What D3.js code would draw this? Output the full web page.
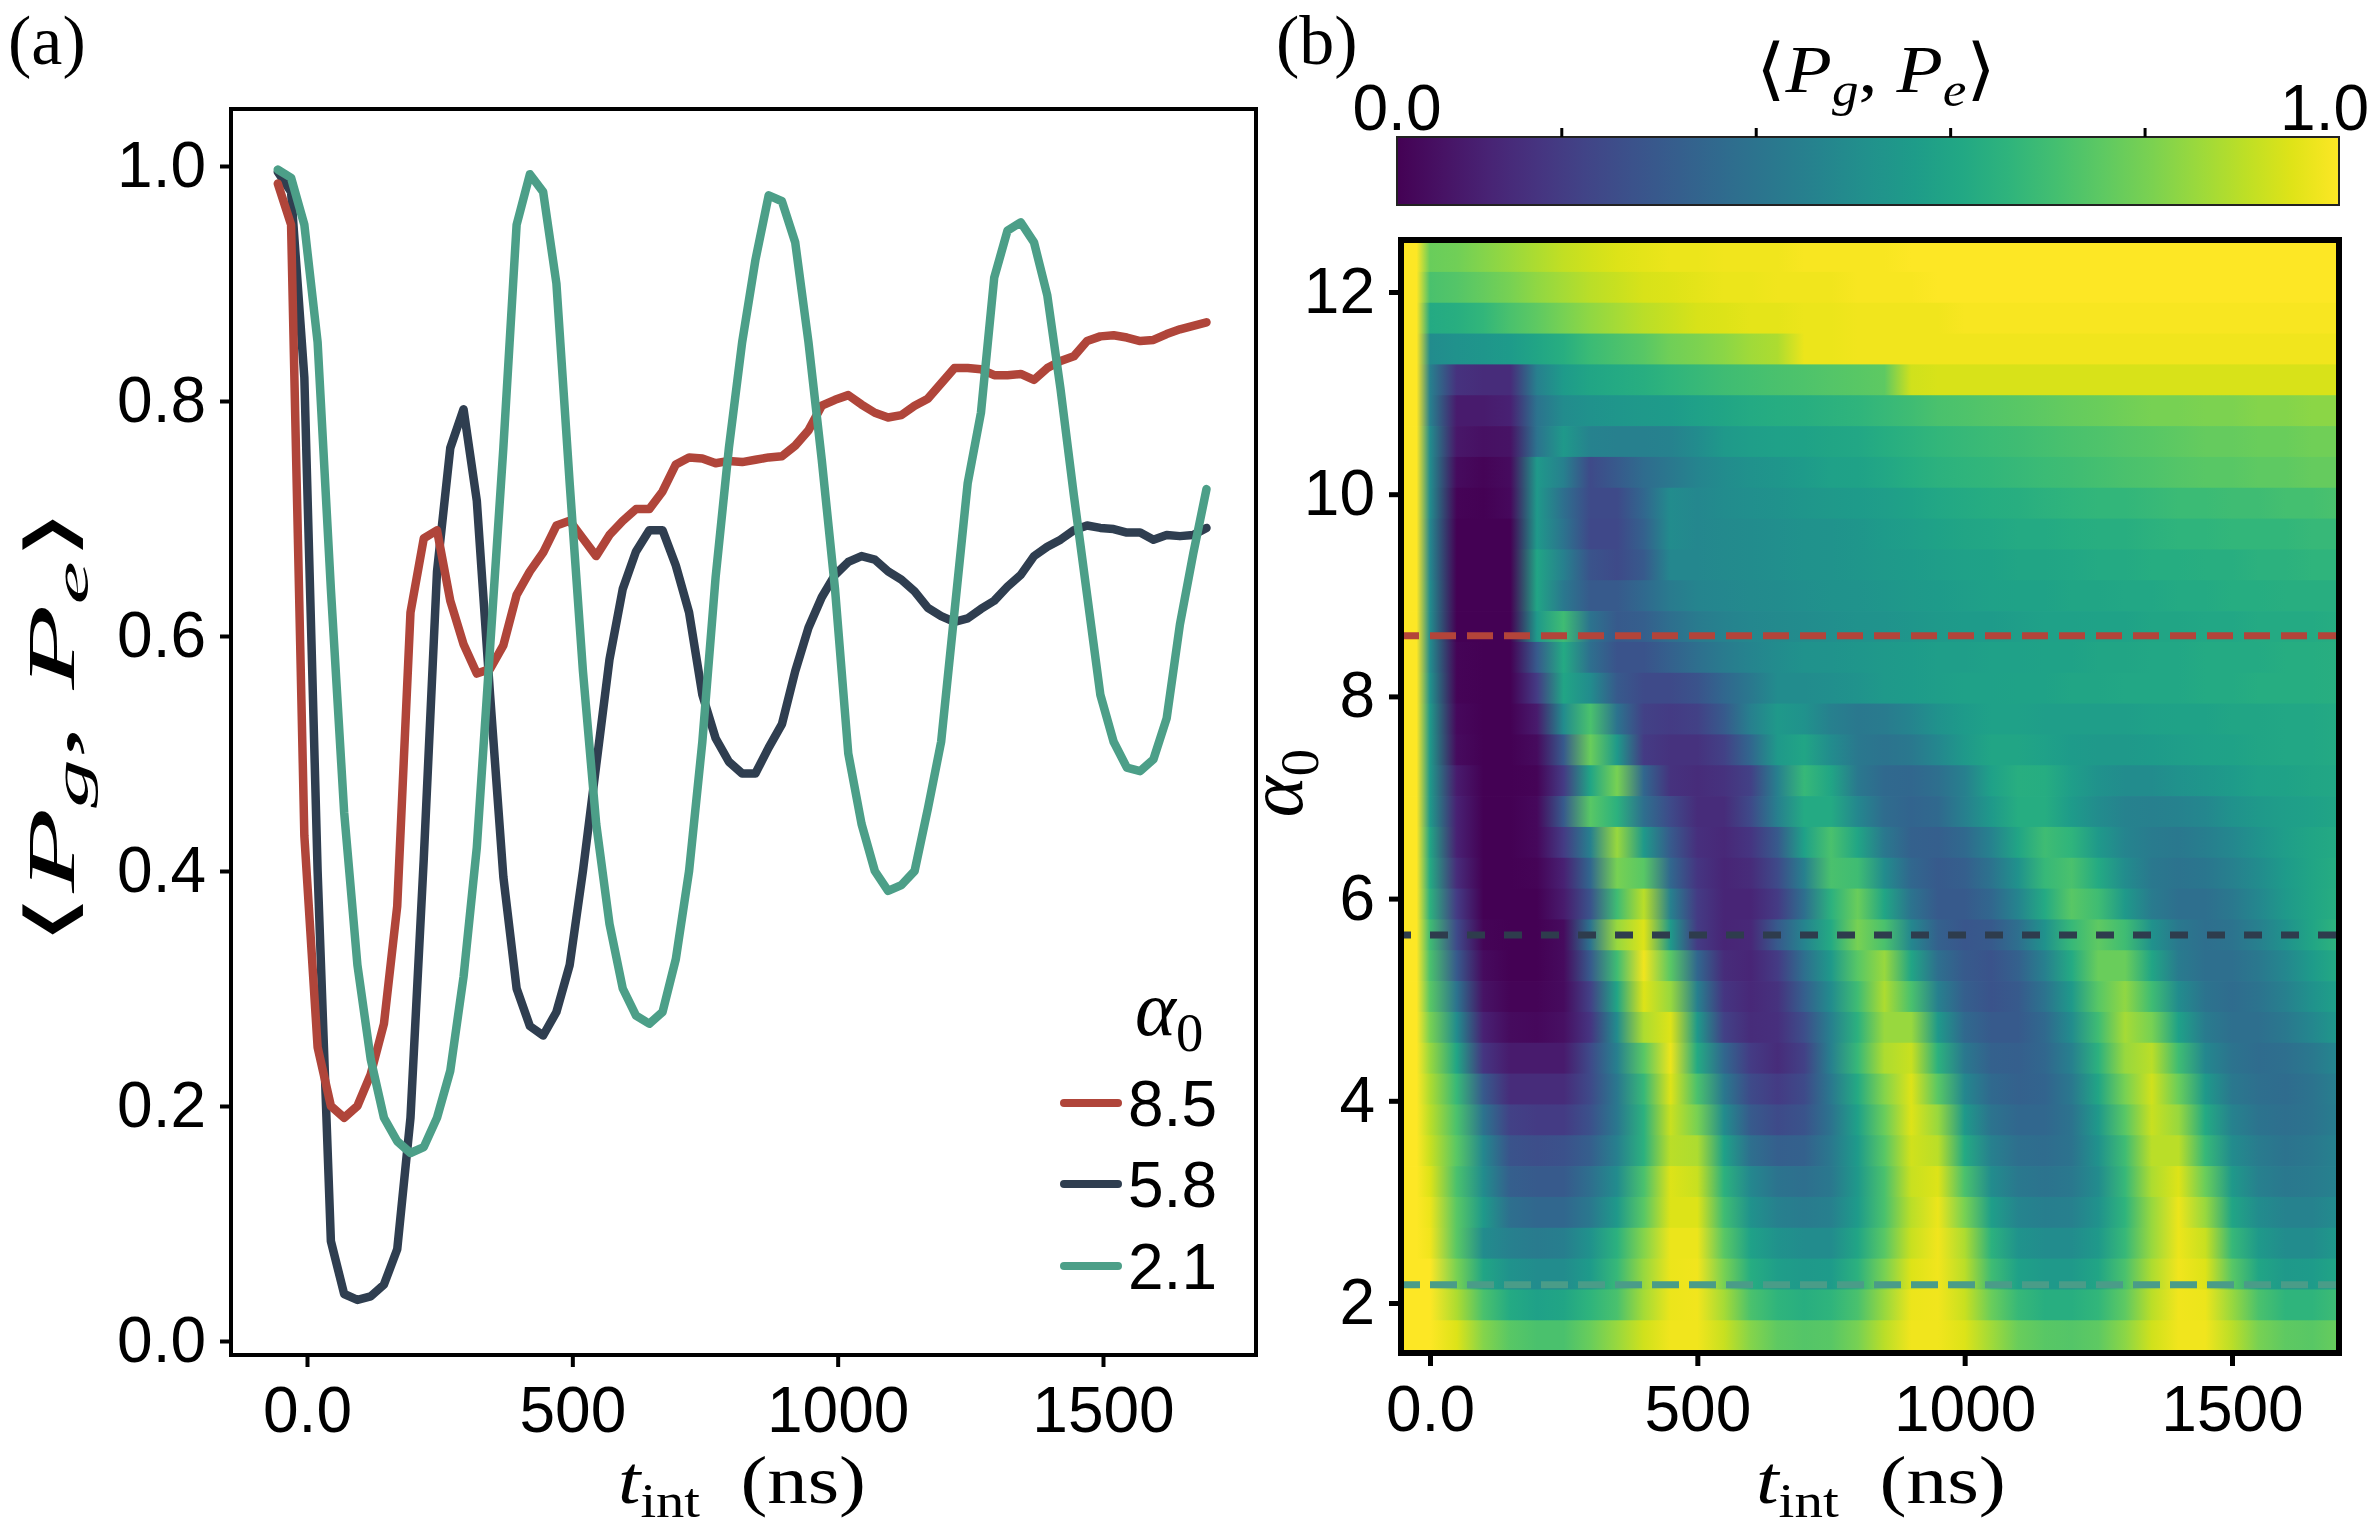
<!DOCTYPE html>
<html><head><meta charset="utf-8">
<script src="https://cdn.jsdelivr.net/npm/d3@7"></script>
<style>body{margin:0;background:#fff}</style>
</head><body>
<svg id="c" width="2374" height="1530" xmlns="http://www.w3.org/2000/svg"></svg>
<script>
// ---------------- DATA ----------------
// panel (a): interaction time grid (ns) and <Pg,Pe> for three alpha0 values
const times = [-55,-30,-5,20,45,70,95,120,145,170,195,220,245,270,295,320,345,370,395,420,445,470,495,520,545,570,595,620,645,670,695,720,745,770,795,820,845,870,895,920,945,970,995,1020,1045,1070,1095,1120,1145,1170,1195,1220,1245,1270,1295,1320,1345,1370,1395,1420,1445,1470,1495,1520,1545,1570,1595,1620,1645,1670,1695];
const seriesNames = ["8.5","5.8","2.1"];
const seriesColors = ["#b0453a","#2f3e50","#4c9f88"];
const val85 = [0.985,0.95,0.43,0.25,0.20,0.19,0.20,0.227,0.27,0.37,0.62,0.683,0.69,0.63,0.593,0.568,0.572,0.592,0.635,0.655,0.671,0.694,0.698,0.683,0.668,0.686,0.698,0.708,0.708,0.723,0.746,0.752,0.751,0.747,0.749,0.748,0.75,0.752,0.753,0.762,0.775,0.796,0.801,0.805,0.797,0.79,0.786,0.788,0.796,0.802,0.815,0.828,0.828,0.827,0.822,0.822,0.823,0.818,0.828,0.834,0.838,0.851,0.855,0.856,0.854,0.851,0.852,0.857,0.861,0.864,0.867];
const val58 = [0.995,0.978,0.82,0.40,0.085,0.04,0.035,0.038,0.048,0.078,0.19,0.41,0.655,0.76,0.793,0.715,0.55,0.395,0.30,0.268,0.26,0.28,0.32,0.40,0.49,0.58,0.64,0.672,0.69,0.69,0.66,0.62,0.55,0.513,0.493,0.483,0.483,0.505,0.525,0.57,0.607,0.633,0.652,0.663,0.668,0.665,0.655,0.648,0.638,0.624,0.617,0.612,0.615,0.623,0.63,0.642,0.652,0.668,0.676,0.682,0.69,0.694,0.692,0.691,0.688,0.688,0.682,0.686,0.685,0.686,0.692];
const val21 = [0.997,0.99,0.95,0.85,0.64,0.45,0.32,0.24,0.19,0.17,0.16,0.165,0.19,0.23,0.31,0.42,0.59,0.76,0.95,0.993,0.978,0.90,0.73,0.57,0.44,0.355,0.30,0.277,0.27,0.28,0.325,0.40,0.51,0.65,0.76,0.85,0.92,0.975,0.97,0.935,0.85,0.75,0.64,0.50,0.44,0.40,0.383,0.388,0.40,0.453,0.51,0.62,0.73,0.79,0.905,0.945,0.952,0.935,0.89,0.81,0.72,0.635,0.55,0.51,0.488,0.485,0.495,0.53,0.61,0.67,0.725];

const tickA_y = [0,0.2,0.4,0.6,0.8,1.0];
const tickA_x = [0,500,1000,1500];
const tickB_y = [2,4,6,8,10,12];
const tickB_x = [0,500,1000,1500];
const cbTicks = [0.2,0.4,0.6,0.8];
const cbEndLabels = ["0.0","1.0"];
const cbDomain = [0.031,1.0];

// panel (b): heat-map columns (ns), row alpha0 values and cell values
const heatCols = [-25,0,50,100,150,200,250,300,350,400,450,500,550,600,650,700,750,800,850,900,950,1000,1050,1100,1150,1200,1250,1300,1350,1400,1450,1500,1550,1600,1650,1700];
const heatAlphas = [12.35,12.04,11.74,11.43,11.13,10.82,10.52,10.21,9.91,9.60,9.30,8.99,8.69,8.38,8.08,7.77,7.47,7.16,6.86,6.55,6.25,5.94,5.64,5.33,5.03,4.72,4.42,4.11,3.81,3.50,3.20,2.89,2.59,2.28,1.98,1.67];
const heatRows = [
[1,.78,.79,.82,.85,.88,.91,.93,.95,.96,.97,.97,.98,.98,.98,.99,.99,.99,.99,1,1,1,1,1,1,1,1,1,1,1,1,1,1,1,1,1],
[1,.72,.74,.77,.8,.84,.87,.9,.92,.94,.95,.96,.97,.97,.98,.98,.98,.99,.99,.99,1,1,1,1,1,1,1,1,1,1,1,1,1,1,1,1],
[1,.62,.64,.67,.72,.76,.8,.84,.87,.9,.92,.94,.95,.96,.96,.97,.97,.98,.98,.98,.98,.99,.99,.99,.99,.99,.99,.99,.99,.99,.99,.99,.99,.99,.99,.99],
[1,.5,.52,.54,.56,.6,.64,.69,.72,.75,.79,.81,.83,.86,.88,.97,.97,.98,.98,.98,.98,.98,.98,.98,.98,.98,.98,.98,.98,.98,.98,.98,.98,.98,.98,.98],
[1,.45,.17,.15,.15,.45,.56,.6,.62,.64,.66,.68,.7,.71,.72,.73,.74,.75,.76,.93,.94,.94,.94,.94,.94,.94,.94,.94,.94,.94,.94,.94,.94,.94,.94,.94],
[1,.45,.1,.1,.12,.4,.5,.52,.54,.55,.56,.58,.6,.62,.63,.64,.65,.66,.68,.7,.72,.73,.74,.75,.76,.77,.78,.79,.8,.8,.81,.81,.82,.82,.83,.83],
[1,.5,.09,.07,.08,.4,.55,.46,.45,.45,.46,.5,.55,.57,.58,.59,.6,.61,.63,.65,.67,.68,.69,.7,.71,.72,.73,.74,.75,.76,.77,.77,.78,.78,.79,.79],
[1,.5,.06,.04,.06,.55,.45,.25,.3,.37,.42,.47,.5,.52,.54,.56,.58,.59,.61,.63,.65,.66,.67,.68,.69,.7,.71,.72,.73,.74,.75,.75,.76,.76,.77,.77],
[1,.5,.04,.03,.05,.55,.38,.25,.25,.35,.5,.48,.5,.51,.52,.54,.55,.56,.57,.59,.61,.62,.63,.64,.65,.66,.67,.67,.68,.69,.69,.7,.7,.71,.71,.72],
[1,.48,.03,.02,.03,.55,.4,.24,.24,.33,.5,.48,.49,.5,.51,.52,.53,.54,.56,.57,.59,.6,.61,.62,.62,.63,.64,.64,.65,.66,.66,.67,.67,.67,.68,.68],
[1,.48,.03,.02,.03,.6,.45,.28,.25,.3,.48,.48,.49,.5,.51,.52,.53,.54,.55,.56,.57,.58,.59,.6,.6,.61,.62,.62,.63,.63,.64,.64,.65,.65,.66,.66],
[1,.5,.03,.02,.02,.6,.42,.3,.3,.36,.43,.47,.48,.49,.5,.51,.52,.53,.54,.55,.56,.57,.58,.59,.59,.6,.6,.61,.61,.62,.62,.63,.63,.64,.64,.64],
[1,.5,.03,.02,.02,.55,.7,.4,.3,.32,.38,.43,.46,.48,.49,.5,.51,.52,.53,.54,.55,.56,.56,.57,.58,.58,.59,.59,.6,.6,.61,.61,.62,.62,.62,.63],
[1,.5,.04,.02,.02,.3,.62,.38,.28,.28,.33,.38,.43,.47,.5,.52,.53,.54,.55,.56,.57,.57,.58,.58,.59,.59,.6,.6,.61,.61,.62,.62,.62,.63,.63,.64],
[1,.52,.04,.02,.02,.2,.6,.5,.3,.25,.25,.28,.35,.42,.5,.5,.51,.53,.55,.56,.57,.58,.58,.59,.59,.6,.6,.61,.61,.61,.62,.62,.63,.63,.63,.64],
[1,.55,.05,.02,.02,.1,.5,.72,.4,.22,.2,.22,.3,.45,.55,.52,.45,.42,.43,.47,.52,.56,.58,.58,.57,.57,.57,.57,.58,.59,.59,.6,.6,.61,.61,.62],
[1,.55,.06,.02,.02,.06,.3,.78,.55,.2,.17,.17,.22,.35,.55,.6,.5,.42,.4,.42,.48,.55,.6,.6,.58,.56,.55,.55,.56,.57,.58,.59,.6,.61,.61,.62],
[1,.55,.1,.02,.02,.04,.2,.6,.8,.35,.17,.15,.17,.22,.45,.68,.6,.42,.36,.35,.38,.45,.58,.64,.63,.57,.52,.5,.5,.52,.54,.56,.58,.59,.6,.61],
[1,.55,.12,.03,.03,.05,.3,.75,.65,.38,.25,.15,.15,.25,.45,.62,.62,.48,.37,.34,.36,.45,.55,.63,.63,.56,.5,.46,.45,.46,.48,.52,.55,.57,.58,.6],
[1,.6,.12,.03,.03,.05,.2,.45,.85,.55,.3,.16,.14,.18,.3,.58,.72,.6,.42,.33,.32,.36,.46,.6,.7,.66,.55,.47,.43,.42,.44,.48,.53,.57,.6,.62],
[1,.62,.15,.03,.02,.04,.12,.35,.8,.75,.35,.18,.13,.15,.25,.45,.72,.7,.5,.35,.3,.32,.4,.52,.68,.72,.62,.5,.42,.4,.41,.45,.5,.56,.6,.63],
[1,.65,.2,.03,.02,.03,.1,.28,.7,.9,.45,.2,.13,.13,.2,.38,.65,.78,.6,.4,.3,.3,.35,.47,.62,.75,.7,.55,.43,.38,.38,.42,.48,.55,.6,.64],
[1,.7,.25,.04,.02,.03,.06,.4,.85,.95,.55,.2,.13,.14,.3,.47,.62,.8,.72,.48,.33,.29,.3,.38,.52,.68,.76,.7,.52,.42,.38,.4,.45,.52,.6,.66],
[1,.72,.3,.06,.03,.03,.06,.3,.7,.98,.75,.35,.15,.13,.2,.38,.55,.75,.85,.6,.38,.3,.28,.33,.45,.62,.78,.78,.6,.43,.38,.38,.42,.48,.56,.62],
[1,.75,.4,.08,.04,.04,.06,.22,.6,.95,.85,.45,.18,.14,.17,.32,.5,.7,.88,.72,.45,.32,.28,.3,.4,.55,.75,.84,.7,.5,.4,.37,.4,.45,.52,.58],
[1,.8,.5,.12,.06,.05,.07,.18,.5,.88,.95,.55,.22,.15,.16,.26,.45,.65,.85,.85,.55,.36,.3,.3,.36,.5,.7,.87,.8,.58,.43,.38,.38,.42,.48,.55],
[1,.85,.6,.18,.1,.1,.1,.25,.45,.75,.97,.62,.35,.2,.15,.22,.45,.68,.88,.92,.65,.42,.33,.32,.35,.45,.65,.85,.9,.7,.48,.4,.37,.38,.42,.48],
[1,.88,.68,.3,.15,.15,.15,.25,.42,.68,.95,.72,.42,.25,.2,.25,.42,.62,.82,.95,.75,.48,.36,.33,.34,.42,.6,.8,.93,.78,.55,.42,.38,.37,.4,.45],
[1,.9,.72,.4,.22,.2,.2,.27,.42,.65,.92,.8,.5,.3,.25,.28,.4,.58,.78,.95,.85,.55,.4,.35,.35,.4,.55,.75,.92,.85,.62,.46,.4,.38,.4,.44],
[1,.92,.75,.48,.28,.26,.27,.32,.45,.65,.9,.88,.58,.38,.32,.33,.42,.56,.75,.93,.9,.62,.45,.38,.37,.4,.52,.7,.9,.9,.68,.5,.43,.4,.42,.46],
[1,.95,.72,.5,.32,.3,.3,.38,.5,.72,.95,.92,.65,.48,.4,.38,.42,.55,.72,.92,.95,.72,.5,.42,.4,.42,.5,.68,.88,.95,.78,.55,.45,.42,.43,.46],
[1,.97,.75,.55,.38,.35,.35,.42,.55,.75,.95,.95,.7,.52,.45,.43,.45,.56,.72,.9,.97,.8,.57,.47,.44,.45,.52,.66,.85,.97,.85,.6,.5,.46,.46,.5],
[1,.98,.75,.5,.45,.43,.44,.52,.65,.82,.97,.97,.75,.58,.52,.5,.5,.6,.75,.92,.98,.88,.65,.53,.5,.5,.55,.68,.85,.97,.92,.68,.55,.5,.5,.55],
[1,1,.8,.6,.52,.5,.5,.56,.68,.85,.97,.98,.8,.63,.57,.55,.56,.65,.8,.95,.98,.9,.7,.58,.55,.55,.6,.72,.88,.98,.95,.75,.6,.55,.56,.6],
[1,1,.88,.72,.62,.58,.6,.66,.72,.87,.97,.98,.87,.72,.66,.64,.66,.72,.85,.97,.98,.92,.78,.68,.64,.64,.67,.76,.9,.98,.97,.85,.72,.66,.66,.7],
[1,1,.95,.82,.75,.72,.72,.78,.85,.93,.98,.98,.92,.82,.76,.74,.75,.8,.9,.98,.98,.95,.86,.78,.75,.74,.76,.83,.93,.98,.98,.9,.8,.76,.75,.78]
];
// dashed cut lines in (b): alpha0 positions, colors, dash patterns
const cutAlphas = [8.6, 5.64, 2.18];
const cutColors = ["#b3443a","#2e3c4d","#4a9c88"];
const cutDash = ["26,11","18,19","27,10"];

// ---------------- DRAW ----------------
const svg = d3.select("#c");
const SANS = "Liberation Sans, Arial, sans-serif";
const SERIF = "Liberation Serif, DejaVu Serif, serif";
const TFS = 64;

function mathText(parent, parts, fs) {
  const t = parent.append("text").attr("font-family", SERIF).attr("font-size", fs).attr("fill", "#000");
  let shifted = 0;
  parts.forEach(p => {
    const ts = t.append("tspan").text(p.s);
    if (p.i) ts.attr("font-style", "italic");
    const want = p.sub ? Math.round(fs * 0.2) : 0;
    if (want - shifted) ts.attr("dy", want - shifted);
    shifted = want;
    if (p.sub) ts.attr("font-size", fs * 0.7);
  });
  return t;
}
function placeMath(parts, fs, cx, by, rot, target, anchorStart) {
  const g = svg.append("g");
  const inner = g.append("g");
  const t = mathText(inner, parts, fs);
  const bb = t.node().getBBox();
  const s = target ? target / bb.width : 1;
  const off = anchorStart ? -bb.x : -(bb.x + bb.width / 2);
  inner.attr("transform", `scale(${s},1) translate(${off},0)`);
  g.attr("transform", `translate(${cx},${by}) rotate(${rot})`);
}
const PgPe = [{s:"\u27E8"},{s:"P",i:1},{s:"g",i:1,sub:1},{s:",\u00a0"},{s:"P",i:1},{s:"e",i:1,sub:1},{s:"\u27E9"}];
const tint = [{s:"t",i:1},{s:"int",sub:1},{s:"\u00a0\u00a0(ns)"}];
const alpha0 = [{s:"\u03B1",i:1},{s:"0",sub:1}];

// ===== Panel (a) =====
const A = {x0:231, x1:1256, y0:109, y1:1355};
const xA = d3.scaleLinear().domain([0,1500]).range([307,1103]);
const yA = d3.scaleLinear().domain([0,1]).range([1341,166]);

const gA = svg.append("g");
const seriesVals = [val85, val58, val21];
const order = [1,0,2];
const line = d3.line().x(d => xA(d[0])).y(d => yA(d[1]));
order.forEach(k => {
  gA.append("path")
    .datum(times.map((t,i) => [t, seriesVals[k][i]]))
    .attr("d", line).attr("fill","none")
    .attr("stroke", seriesColors[k]).attr("stroke-width", 8.5)
    .attr("stroke-linejoin","round").attr("stroke-linecap","round");
});
gA.append("rect").attr("x",A.x0).attr("y",A.y0).attr("width",A.x1-A.x0).attr("height",A.y1-A.y0)
  .attr("fill","none").attr("stroke","#000").attr("stroke-width",4);

function styleAxis(g, sw) {
  g.select(".domain").remove();
  g.selectAll(".tick line").attr("stroke","#000").attr("stroke-width",sw);
  g.selectAll(".tick text").attr("font-family",SANS).attr("font-size",TFS).attr("fill","#000");
}
const fmtA = d => d === 0 ? "0.0" : (d < 10 ? d3.format(".1f")(d) : String(d));
svg.append("g").attr("transform",`translate(${A.x0},0)`)
  .call(d3.axisLeft(yA).tickValues(tickA_y).tickFormat(d3.format(".1f")).tickSize(11).tickPadding(14))
  .call(g => styleAxis(g,4));
svg.append("g").attr("transform",`translate(0,${A.y1})`)
  .call(d3.axisBottom(xA).tickValues(tickA_x).tickFormat(fmtA).tickSize(12).tickPadding(20))
  .call(g => styleAxis(g,4));

// legend
const legY = [1103,1184,1266];
placeMath(alpha0, 78, 1135, 1035, 0, null, true);
seriesNames.forEach((n,k) => {
  svg.append("line").attr("x1",1064).attr("x2",1118).attr("y1",legY[k]).attr("y2",legY[k])
    .attr("stroke",seriesColors[k]).attr("stroke-width",8).attr("stroke-linecap","round");
  svg.append("text").attr("x",1128).attr("y",legY[k]+23).text(n)
    .attr("font-family",SANS).attr("font-size",TFS).attr("fill","#000");
});

// labels (a)
placeMath(PgPe, 68, 74, 727, -90, 440);
placeMath(tint, 68, 742, 1503, 0, 248);
svg.append("text").attr("x",8).attr("y",64).text("(a)").attr("font-family",SERIF).attr("font-size",70);

// ===== Panel (b) =====
const B = {x0:1401, x1:2339, y0:240, y1:1353};
const xH = d3.scaleLinear().domain([0,1500]).range([1430,2232]);
const yH = d3.scaleLinear().domain([2,12]).range([1303,292]);
const color = d3.scaleSequential(d3.interpolateViridis).domain(cbDomain).clamp(true);

const defs = svg.append("defs");
defs.append("clipPath").attr("id","hclip").append("rect")
  .attr("x",B.x0).attr("y",B.y0).attr("width",B.x1-B.x0).attr("height",B.y1-B.y0);
const gx1 = xH(heatCols[0]), gx2 = xH(heatCols[heatCols.length-1]);
heatRows.forEach((row,i) => {
  const lg = defs.append("linearGradient").attr("id","hg"+i)
    .attr("gradientUnits","userSpaceOnUse").attr("x1",gx1).attr("x2",gx2).attr("y1",0).attr("y2",0);
  row.forEach((v,j) => lg.append("stop").attr("offset",(xH(heatCols[j])-gx1)/(gx2-gx1)).attr("stop-color",color(v)));
});
const gH = svg.append("g").attr("clip-path","url(#hclip)");
heatAlphas.forEach((a,i) => {
  const up = i === 0 ? a + (a - heatAlphas[1]) / 2 : (a + heatAlphas[i-1]) / 2;
  const dn = i === heatAlphas.length-1 ? a - (heatAlphas[i-1] - a) / 2 : (a + heatAlphas[i+1]) / 2;
  gH.append("rect").attr("x",B.x0).attr("width",B.x1-B.x0)
    .attr("y",yH(up)-0.4).attr("height",yH(dn)-yH(up)+0.8)
    .attr("fill",`url(#hg${i})`);
});
cutAlphas.forEach((a,k) => {
  gH.append("line").attr("x1",B.x0).attr("x2",B.x1).attr("y1",yH(a)).attr("y2",yH(a))
    .attr("stroke",cutColors[k]).attr("stroke-width",7).attr("stroke-dasharray",cutDash[k]).attr("stroke-dashoffset",8);
});
svg.append("rect").attr("x",B.x0).attr("y",B.y0).attr("width",B.x1-B.x0).attr("height",B.y1-B.y0)
  .attr("fill","none").attr("stroke","#000").attr("stroke-width",6);
svg.append("g").attr("transform",`translate(${B.x0-2},0)`)
  .call(d3.axisLeft(yH).tickValues(tickB_y).tickFormat(d3.format("d")).tickSize(10).tickPadding(14))
  .call(g => styleAxis(g,5));
svg.append("g").attr("transform",`translate(0,${B.y1+2})`)
  .call(d3.axisBottom(xH).tickValues(tickB_x).tickFormat(fmtA).tickSize(11).tickPadding(20))
  .call(g => styleAxis(g,5));

// colorbar
const CB = {y0:137, y1:205};
const xCB = d3.scaleLinear().domain(cbDomain).range([1397,2339]);
const cg = defs.append("linearGradient").attr("id","cbg");
d3.range(0,1.0001,0.05).forEach(f => cg.append("stop").attr("offset",f).attr("stop-color",d3.interpolateViridis(f)));
svg.append("rect").attr("x",xCB.range()[0]).attr("y",CB.y0).attr("width",xCB.range()[1]-xCB.range()[0]).attr("height",CB.y1-CB.y0)
  .attr("fill","url(#cbg)").attr("stroke","#222").attr("stroke-width",2);
svg.append("g").attr("transform",`translate(0,${CB.y0})`)
  .call(d3.axisTop(xCB).tickValues(cbTicks).tickFormat("").tickSize(9))
  .call(g => styleAxis(g,3));
svg.append("text").attr("x",xCB(cbDomain[0])).attr("y",130).attr("text-anchor","middle").text(cbEndLabels[0])
  .attr("font-family",SANS).attr("font-size",TFS);
svg.append("text").attr("x",xCB(cbDomain[1])+30).attr("y",130).attr("text-anchor","end").text(cbEndLabels[1])
  .attr("font-family",SANS).attr("font-size",TFS);
placeMath(PgPe, 68, 1876, 92, 0, 240);

// labels (b)
placeMath(alpha0, 78, 1302, 783, -90, null);
placeMath(tint, 68, 1881, 1503, 0, 250);
svg.append("text").attr("x",1276).attr("y",64).text("(b)").attr("font-family",SERIF).attr("font-size",70);
</script>
</body></html>
